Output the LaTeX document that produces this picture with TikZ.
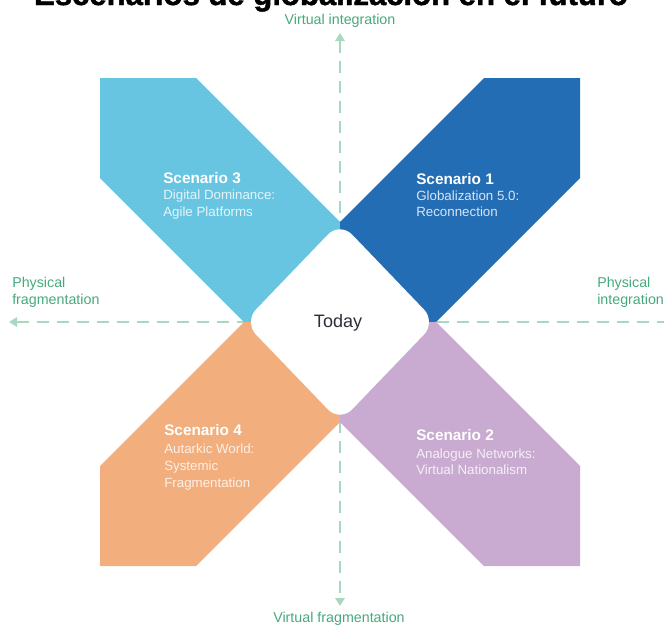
\documentclass[tikz,border=0pt]{standalone}
\usepackage{fontspec}
\setmainfont{Liberation Sans}
\newfontfamily\titlefont{Liberation Sans}[BoldFont={Liberation Sans Bold}, BoldFeatures={FakeBold=1.5}]
\usetikzlibrary{arrows.meta}
\definecolor{armA}{HTML}{236DB5}
\definecolor{armB}{HTML}{C9AAD1}
\definecolor{armC}{HTML}{68C5E2}
\definecolor{armD}{HTML}{F2AE7C}
\definecolor{axisline}{HTML}{A6D9BF}
\definecolor{axistext}{HTML}{46A97C}
\definecolor{todaytext}{HTML}{2E2E38}
\begin{document}
\begin{tikzpicture}[x=0.75pt,y=-0.75pt,
  axis/.style={draw=axisline, line width=1.9pt, dash pattern=on 9pt off 6pt},
  axistips/.style={{Triangle[length=6pt,width=7pt]}-{Triangle[length=6pt,width=7pt]}},
  lab/.style={inner sep=0pt, text=axistext, font=\fontsize{10.7pt}{12.8pt}\selectfont},
  sctitle/.style={inner sep=0pt, anchor=base west, text=white, font=\fontsize{11.5pt}{13pt}\selectfont\bfseries},
  scsub/.style={inner sep=0pt, anchor=base west, text=white, text opacity=0.82, font=\fontsize{10pt}{12pt}\selectfont},
]
\useasboundingbox (0,0) rectangle (664,625);
\clip (0,0) rectangle (664,625);

% title (cut off at the top, as in the reference)
\node[inner sep=0pt, anchor=base, font=\titlefont\fontsize{23.3pt}{28pt}\selectfont\bfseries] (title) at (331,5) {Escenarios de globalización en el futuro};

% axes
\coordinate (vtop) at (340,33);
\coordinate (vbot) at (340,606);
\coordinate (hleft) at (9,322);
\coordinate (hright) at (690,322);
\draw[axis, axistips] (vtop) -- (vbot);
\draw[axis, axistips] (hleft) -- (hright);

% axis labels
\node[lab, anchor=base] (vint) at (340,24) {Virtual integration};
\node[lab, anchor=base] (vfrag) at (339,622) {Virtual fragmentation};
\node[lab, anchor=base west] (pfrag1) at (12,287) {Physical};
\node[lab, anchor=base west] (pfrag2) at (12,304) {fragmentation};
\node[lab, anchor=base west] (pint1) at (597,287) {Physical};
\node[lab, anchor=base west] (pint2) at (597,304) {integration};

% arms
\fill[armC] (100,78) -- (196,78) -- (340,222) -- (340,322) -- (244,322) -- (100,178) -- cycle;
\fill[armA] (580,78) -- (484,78) -- (340,222) -- (340,322) -- (436,322) -- (580,178) -- cycle;
\fill[armD] (100,566) -- (196,566) -- (340,422) -- (340,322) -- (244,322) -- (100,466) -- cycle;
\fill[armB] (580,566) -- (484,566) -- (340,422) -- (340,322) -- (436,322) -- (580,466) -- cycle;

% centre
\fill[white, rounded corners=13pt] (340,222) -- (436,322) -- (340,422) -- (244,322) -- cycle;
\node[inner sep=0pt, anchor=base, text=todaytext, font=\fontsize{13.5pt}{16pt}\selectfont] (today) at (338,327) {Today};

% scenario texts
\node[sctitle] (s3a) at (163,183) {Scenario 3};
\node[scsub]   (s3b) at (163,199) {Digital Dominance:};
\node[scsub]   (s3c) at (163,216) {Agile Platforms};

\node[sctitle] (s1a) at (416,184) {Scenario 1};
\node[scsub]   (s1b) at (416,200) {Globalization 5.0:};
\node[scsub]   (s1c) at (416,216) {Reconnection};

\node[sctitle] (s4a) at (164,435) {Scenario 4};
\node[scsub]   (s4b) at (164,453) {Autarkic World:};
\node[scsub]   (s4c) at (164,470) {Systemic};
\node[scsub]   (s4d) at (164,487) {Fragmentation};

\node[sctitle] (s2a) at (416,440) {Scenario 2};
\node[scsub]   (s2b) at (416,458) {Analogue Networks:};
\node[scsub]   (s2c) at (416,474) {Virtual Nationalism};
\end{tikzpicture}
\end{document}
